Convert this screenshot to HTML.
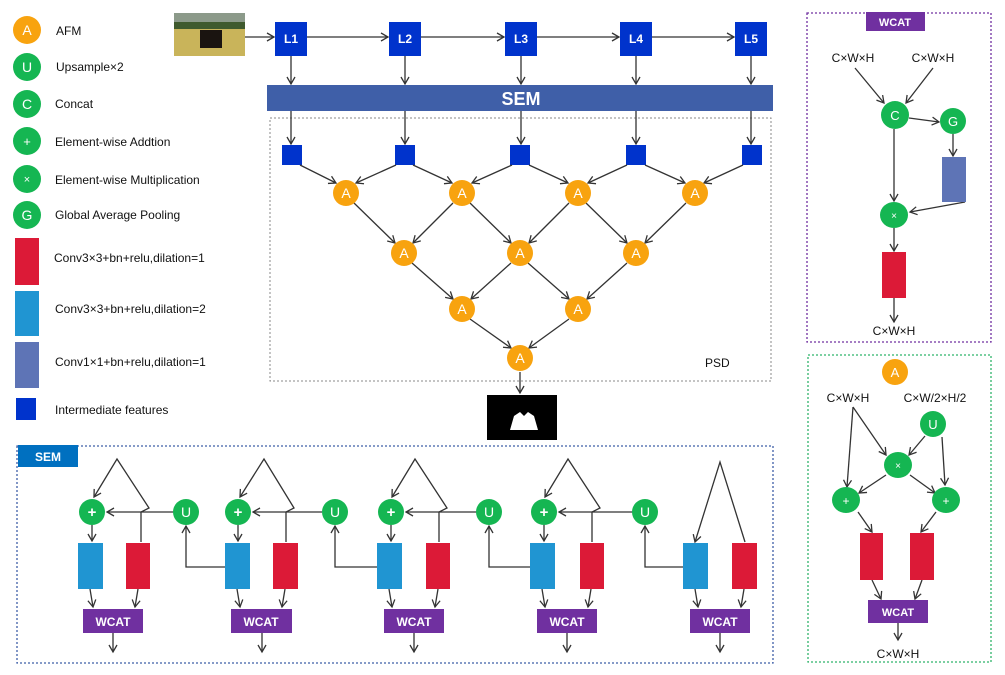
<!DOCTYPE html>
<html><head><meta charset="utf-8"><style>
body{margin:0;background:#fff}
svg{display:block;font-family:"Liberation Sans",Arial,sans-serif}
.l{stroke:#333;stroke-width:1.3;fill:none;marker-end:url(#ar)}
.n{stroke:#333;stroke-width:1.3;fill:none}
.t{font-size:12px;fill:#111}
.w{fill:#fff;font-weight:bold;text-anchor:middle}
</style></head><body>
<svg width="1005" height="675" viewBox="0 0 1005 675">
<defs><marker id="ar" markerWidth="10" markerHeight="10" refX="8" refY="5" orient="auto" markerUnits="userSpaceOnUse"><path d="M1,1 L8,5 L1,9" fill="none" stroke="#333" stroke-width="1.3"/></marker></defs>
<!-- legend -->
<circle cx="27" cy="30" r="14" fill="#f8a30f"/><text x="27" y="35" class="w" style="font-weight:normal;font-size:14px">A</text>
<circle cx="27" cy="67" r="14" fill="#15b652"/><text x="27" y="72" class="w" style="font-weight:normal;font-size:14px">U</text>
<circle cx="27" cy="104" r="14" fill="#15b652"/><text x="27" y="109" class="w" style="font-weight:normal;font-size:14px">C</text>
<circle cx="27" cy="141" r="14" fill="#15b652"/><text x="27" y="146" class="w" style="font-weight:normal;font-size:13px">+</text>
<circle cx="27" cy="179" r="14" fill="#15b652"/><text x="27" y="183" class="w" style="font-weight:normal;font-size:11px">×</text>
<circle cx="27" cy="215" r="14" fill="#15b652"/><text x="27" y="220" class="w" style="font-weight:normal;font-size:14px">G</text>
<rect x="15" y="238" width="24" height="47" fill="#dc1a37"/>
<rect x="15" y="291" width="24" height="45" fill="#2095d2"/>
<rect x="15" y="342" width="24" height="46" fill="#5e74b6"/>
<rect x="16" y="398" width="20" height="22" fill="#0033cc"/>
<text x="56" y="35" class="t">AFM</text>
<text x="56" y="71" class="t">Upsample×2</text>
<text x="55" y="108" class="t">Concat</text>
<text x="55" y="146" class="t">Element-wise Addtion</text>
<text x="55" y="184" class="t">Element-wise Multiplication</text>
<text x="55" y="219" class="t">Global Average Pooling</text>
<text x="54" y="262" class="t">Conv3×3+bn+relu,dilation=1</text>
<text x="55" y="313" class="t">Conv3×3+bn+relu,dilation=2</text>
<text x="55" y="366" class="t">Conv1×1+bn+relu,dilation=1</text>
<text x="55" y="414" class="t">Intermediate features</text>
<!-- image -->
<rect x="174" y="13" width="71" height="43" fill="#c9b45a"/><rect x="174" y="13" width="71" height="12" fill="#8c9a8a"/><rect x="174" y="22" width="71" height="7" fill="#3f5a2e"/>
<rect x="200" y="30" width="22" height="18" fill="#1a1410"/>
<!-- L boxes -->
<path class="l" d="M245,37 H274"/><path class="l" d="M307,37 H388"/><path class="l" d="M421,37 H504"/><path class="l" d="M537,37 H619"/><path class="l" d="M652,37 H734"/>
<g fill="#0033cc"><rect x="275" y="22" width="32" height="34"/><rect x="389" y="22" width="32" height="34"/><rect x="505" y="22" width="32" height="34"/><rect x="620" y="22" width="32" height="34"/><rect x="735" y="22" width="32" height="34"/></g>
<g class="w" font-size="12"><text x="291" y="43">L1</text><text x="405" y="43">L2</text><text x="521" y="43">L3</text><text x="636" y="43">L4</text><text x="751" y="43">L5</text></g>
<path class="l" d="M291,56 V84"/><path class="l" d="M405,56 V84"/><path class="l" d="M521,56 V84"/><path class="l" d="M636,56 V84"/><path class="l" d="M751,56 V84"/>
<rect x="267" y="85" width="506" height="26" fill="#3f5fa8"/>
<text x="521" y="105" class="w" font-size="18">SEM</text>
<!-- PSD -->
<rect x="270" y="118" width="501" height="263" fill="none" stroke="#888" stroke-dasharray="2,2"/>
<path class="l" d="M291,111 V144"/><path class="l" d="M405,111 V144"/><path class="l" d="M521,111 V144"/><path class="l" d="M636,111 V144"/><path class="l" d="M751,111 V144"/>
<g fill="#0033cc"><rect x="282" y="145" width="20" height="20"/><rect x="395" y="145" width="20" height="20"/><rect x="510" y="145" width="20" height="20"/><rect x="626" y="145" width="20" height="20"/><rect x="742" y="145" width="20" height="20"/></g>
<g class="l">
<path d="M300,165 L336,183"/><path d="M396,165 L356,183"/><path d="M413,165 L452,183"/><path d="M512,165 L472,183"/><path d="M529,165 L568,183"/><path d="M627,165 L588,183"/><path d="M645,165 L685,183"/><path d="M743,165 L704,183"/>
<path d="M354,203 L395,243"/><path d="M453,203 L413,243"/><path d="M470,203 L511,243"/><path d="M569,203 L529,243"/><path d="M586,203 L627,243"/><path d="M686,203 L645,243"/>
<path d="M412,263 L453,299"/><path d="M511,263 L471,299"/><path d="M528,263 L569,299"/><path d="M627,263 L587,299"/>
<path d="M470,319 L511,348"/><path d="M569,319 L529,348"/>
<path d="M520,372 V393"/>
</g>
<g fill="#f8a30f"><circle cx="346" cy="193" r="13"/><circle cx="462" cy="193" r="13"/><circle cx="578" cy="193" r="13"/><circle cx="695" cy="193" r="13"/><circle cx="404" cy="253" r="13"/><circle cx="520" cy="253" r="13"/><circle cx="636" cy="253" r="13"/><circle cx="462" cy="309" r="13"/><circle cx="578" cy="309" r="13"/><circle cx="520" cy="358" r="13"/></g>
<g fill="#fff" font-size="14" text-anchor="middle"><text x="346" y="198">A</text><text x="462" y="198">A</text><text x="578" y="198">A</text><text x="695" y="198">A</text><text x="404" y="258">A</text><text x="520" y="258">A</text><text x="636" y="258">A</text><text x="462" y="314">A</text><text x="578" y="314">A</text><text x="520" y="363">A</text></g>
<text x="705" y="367" class="t" font-size="13">PSD</text>
<rect x="487" y="395" width="70" height="45" fill="#000"/>
<path d="M510,430 l4,-14 l6,-4 l4,4 l4,-4 l6,4 l4,14 z" fill="#fff"/>
<!-- SEM box -->
<rect x="17" y="446" width="756" height="217" fill="none" stroke="#3f5fa8" stroke-width="1.3" stroke-dasharray="2,2"/>
<rect x="18" y="445" width="60" height="22" fill="#0070c0"/><text x="48" y="461" class="w" font-size="12">SEM</text>
<!-- units -->
<g class="l">
<path d="M141,542 V512 L149,508 L117,459 L94,497"/>
<path d="M174,512 H107"/><path d="M92,525 V541"/>
<path d="M90,589 L93,607"/><path d="M138,589 L135,607"/><path d="M113,633 V652"/>
<path d="M225,567 H186 V526"/>
<path d="M286,542 V512 L294,508 L264,459 L240,497"/>
<path d="M322,512 H253"/><path d="M238,525 V541"/>
<path d="M237,589 L240,607"/><path d="M285,589 L282,607"/><path d="M262,633 V652"/>
<path d="M377,567 H335 V526"/>
<path d="M439,542 V512 L447,508 L415,459 L392,497"/>
<path d="M477,512 H406"/><path d="M391,525 V541"/>
<path d="M389,589 L392,607"/><path d="M438,589 L435,607"/><path d="M414,633 V652"/>
<path d="M530,567 H489 V526"/>
<path d="M592,542 V512 L600,508 L568,459 L545,497"/>
<path d="M633,512 H559"/><path d="M544,525 V541"/>
<path d="M542,589 L545,607"/><path d="M591,589 L588,607"/><path d="M567,633 V652"/>
<path d="M683,567 H645 V526"/>
<path d="M745,542 L720,462 L695,542"/>
<path d="M695,589 L698,607"/><path d="M744,589 L741,607"/><path d="M720,633 V652"/>
</g>
<g fill="#2095d2"><rect x="78" y="543" width="25" height="46"/><rect x="225" y="543" width="25" height="46"/><rect x="377" y="543" width="25" height="46"/><rect x="530" y="543" width="25" height="46"/><rect x="683" y="543" width="25" height="46"/></g>
<g fill="#dc1a37"><rect x="126" y="543" width="24" height="46"/><rect x="273" y="543" width="25" height="46"/><rect x="426" y="543" width="24" height="46"/><rect x="580" y="543" width="24" height="46"/><rect x="732" y="543" width="25" height="46"/></g>
<g fill="#7030a0"><rect x="83" y="609" width="60" height="24"/><rect x="231" y="609" width="61" height="24"/><rect x="384" y="609" width="60" height="24"/><rect x="537" y="609" width="60" height="24"/><rect x="690" y="609" width="60" height="24"/></g>
<g class="w" font-size="12"><text x="113" y="626">WCAT</text><text x="261" y="626">WCAT</text><text x="414" y="626">WCAT</text><text x="567" y="626">WCAT</text><text x="720" y="626">WCAT</text></g>
<g fill="#15b652"><circle cx="92" cy="512" r="13"/><circle cx="238" cy="512" r="13"/><circle cx="391" cy="512" r="13"/><circle cx="544" cy="512" r="13"/><circle cx="186" cy="512" r="13"/><circle cx="335" cy="512" r="13"/><circle cx="489" cy="512" r="13"/><circle cx="645" cy="512" r="13"/></g>
<g class="w" font-size="15"><text x="92" y="517">+</text><text x="238" y="517">+</text><text x="391" y="517">+</text><text x="544" y="517">+</text></g>
<g fill="#fff" font-size="14" text-anchor="middle"><text x="186" y="517">U</text><text x="335" y="517">U</text><text x="489" y="517">U</text><text x="645" y="517">U</text></g>
<!-- WCAT box -->
<rect x="807" y="13" width="184" height="329" fill="none" stroke="#7030a0" stroke-width="1.3" stroke-dasharray="2,2"/>
<rect x="866" y="12" width="59" height="19" fill="#7030a0"/><text x="895" y="26" class="w" font-size="11">WCAT</text>
<text x="853" y="62" class="t" font-size="11" text-anchor="middle">C×W×H</text><text x="933" y="62" class="t" font-size="11" text-anchor="middle">C×W×H</text>
<g class="l"><path d="M855,68 L884,103"/><path d="M933,68 L906,103"/><path d="M909,118 L939,122"/><path d="M953,134 V156"/><path d="M894,129 V201"/><path d="M965,202 L910,212"/><path d="M894,228 V251"/><path d="M894,298 V322"/></g>
<circle cx="895" cy="115" r="14" fill="#15b652"/><text x="895" y="120" fill="#fff" font-size="13" text-anchor="middle">C</text>
<circle cx="953" cy="121" r="13" fill="#15b652"/><text x="953" y="126" fill="#fff" font-size="13" text-anchor="middle">G</text>
<rect x="942" y="157" width="24" height="45" fill="#5e74b6"/>
<ellipse cx="894" cy="215" rx="14" ry="13" fill="#15b652"/><text x="894" y="219" fill="#fff" font-size="10" text-anchor="middle">×</text>
<rect x="882" y="252" width="24" height="46" fill="#dc1a37"/>
<text x="894" y="335" class="t" font-size="11" text-anchor="middle">C×W×H</text>
<!-- AFM box -->
<rect x="808" y="355" width="183" height="307" fill="none" stroke="#2fb36a" stroke-width="1.3" stroke-dasharray="2,2"/>
<circle cx="895" cy="372" r="13" fill="#f8a30f"/><text x="895" y="377" fill="#fff" font-size="13" text-anchor="middle">A</text>
<text x="848" y="402" class="t" font-size="11" text-anchor="middle">C×W×H</text><text x="935" y="402" class="t" font-size="11" text-anchor="middle">C×W/2×H/2</text>
<g class="l"><path d="M853,407 L847,487"/><path d="M853,407 L886,455"/><path d="M925,436 L909,455"/><path d="M942,437 L945,485"/><path d="M886,475 L859,493"/><path d="M910,475 L935,493"/><path d="M858,512 L872,532"/><path d="M936,512 L921,532"/><path d="M872,580 L881,599"/><path d="M922,580 L915,599"/><path d="M898,623 V640"/></g>
<circle cx="933" cy="424" r="13" fill="#15b652"/><text x="933" y="429" fill="#fff" font-size="13" text-anchor="middle">U</text>
<ellipse cx="898" cy="465" rx="14" ry="13" fill="#15b652"/><text x="898" y="469" fill="#fff" font-size="10" text-anchor="middle">×</text>
<ellipse cx="846" cy="500" rx="14" ry="13" fill="#15b652"/><text x="846" y="505" fill="#fff" font-size="12" text-anchor="middle">+</text>
<ellipse cx="946" cy="500" rx="14" ry="13" fill="#15b652"/><text x="946" y="505" fill="#fff" font-size="12" text-anchor="middle">+</text>
<rect x="860" y="533" width="23" height="47" fill="#dc1a37"/><rect x="910" y="533" width="24" height="47" fill="#dc1a37"/>
<rect x="868" y="600" width="60" height="23" fill="#7030a0"/><text x="898" y="616" class="w" font-size="11">WCAT</text>
<text x="898" y="658" class="t" font-size="11" text-anchor="middle">C×W×H</text>
</svg>
</body></html>
